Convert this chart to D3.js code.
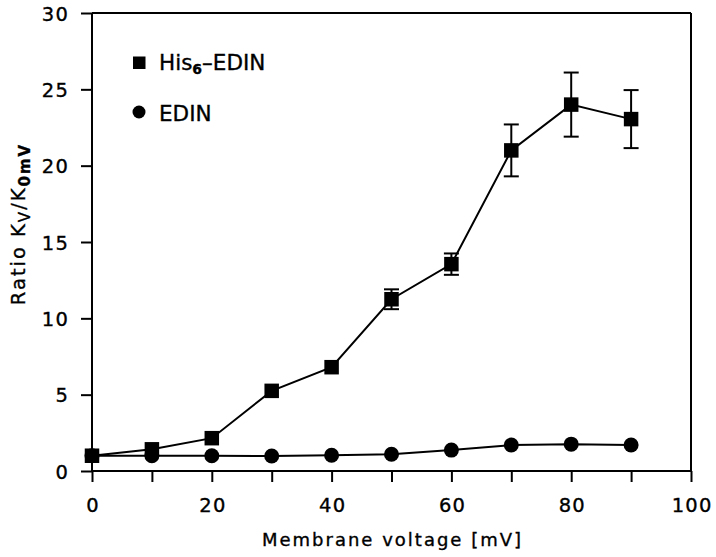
<!DOCTYPE html>
<html><head><meta charset="utf-8">
<script src="https://cdn.jsdelivr.net/npm/d3@7"></script>
<style>body{margin:0;background:#fff}svg{display:block}text{font-family:"DejaVu Sans",sans-serif;fill:#000;stroke:#000;stroke-width:0.35px}</style>
</head><body><svg id="c" width="716" height="557"></svg>
<script>
const voltages = [0,10,20,30,40,50,60,70,80,90];
const hisEdin = [1.0,1.42,2.15,5.25,6.8,11.25,13.55,21.0,24.0,23.05];
const hisEdinErr = [0,0,0,0,0,0.65,0.7,1.7,2.1,1.9];
const edin = [1.0,1.0,1.0,0.98,1.03,1.1,1.37,1.7,1.76,1.7];
const xTicks = [0,20,40,60,80,100];
const yTicks = [0,5,10,15,20,25,30];

const svg = d3.select("#c");
const L=92,R=691,T=13,B=471;
const x = d3.scaleLinear().domain([0,100]).range([L,R]);
const y = d3.scaleLinear().domain([0,30]).range([B,T]);
const FF = "'DejaVu Sans',sans-serif";

// frame
svg.append("line").attr("x1",L).attr("x2",R).attr("y1",T).attr("y2",T).attr("stroke","#000").attr("stroke-width",2);
svg.append("line").attr("x1",R).attr("x2",R).attr("y1",T).attr("y2",B).attr("stroke","#000").attr("stroke-width",2);

const ax = svg.append("g").attr("transform",`translate(0,${B})`)
  .call(d3.axisBottom(x).tickValues(d3.range(0,101,10)).tickSize(11).tickFormat(d=>xTicks.includes(d)?d:""));
ax.select(".domain").attr("stroke-width",2).attr("d",`M${L},0H${R}`);
ax.selectAll(".tick line").attr("stroke-width",2);
ax.selectAll(".tick text").attr("font-size",19.5).attr("letter-spacing",1.2).attr("y",41).attr("dy",0).attr("dx",0.6);

const ay = svg.append("g").attr("transform",`translate(${L},0)`)
  .call(d3.axisLeft(y).tickValues(yTicks).tickSize(11));
ay.select(".domain").attr("stroke-width",2).attr("d",`M0,${T}V${B}`);
ay.selectAll(".tick line").attr("stroke-width",2);
ay.selectAll(".tick text").attr("font-size",19.5).attr("letter-spacing",1.2).attr("x",-23).attr("dy","0.36em");
svg.selectAll(".tick text").style("font-family",FF);

// axis titles
svg.append("text").attr("x",(L+R)/2+1).attr("y",546).attr("text-anchor","middle")
  .attr("font-size",18).attr("letter-spacing",2).text("Membrane voltage [mV]");
const yt = svg.append("text").attr("transform",`translate(25,224) rotate(-90)`).attr("text-anchor","middle").attr("font-size",19.5).attr("letter-spacing",2);
yt.append("tspan").text("Ratio K");
yt.append("tspan").attr("font-size",15).attr("dy",5).text("V");
yt.append("tspan").attr("dy",-5).text("/K");
yt.append("tspan").attr("font-size",15).attr("dy",5).attr("font-weight","bold").text("0mV");

const line = d3.line().x(d=>x(d[0])).y(d=>y(d[1]));
const edinData = voltages.map((v,i)=>[v,edin[i]]);
const hisData = voltages.map((v,i)=>[v,hisEdin[i]]);

svg.append("path").attr("d",line(edinData)).attr("fill","none").attr("stroke","#000").attr("stroke-width",2);
svg.selectAll("circle.e").data(edinData).enter().append("circle").attr("cx",d=>x(d[0])).attr("cy",d=>y(d[1])).attr("r",7.5).attr("fill","#000");

svg.append("path").attr("d",line(hisData)).attr("fill","none").attr("stroke","#000").attr("stroke-width",2);
// error bars
const eb = svg.append("g").attr("stroke","#000").attr("stroke-width",2);
voltages.forEach((v,i)=>{
  const e=hisEdinErr[i]; if(!e) return;
  const cx=x(v), y1=y(hisEdin[i]+e), y2=y(hisEdin[i]-e);
  eb.append("line").attr("x1",cx).attr("x2",cx).attr("y1",y1).attr("y2",y2);
  eb.append("line").attr("x1",cx-7.5).attr("x2",cx+7.5).attr("y1",y1).attr("y2",y1);
  eb.append("line").attr("x1",cx-7.5).attr("x2",cx+7.5).attr("y1",y2).attr("y2",y2);
});
svg.selectAll("rect.h").data(hisData).enter().append("rect").attr("x",d=>x(d[0])-7.25).attr("y",d=>y(d[1])-7.25).attr("width",14.5).attr("height",14.5).attr("fill","#000");

// legend
svg.append("rect").attr("x",133).attr("y",56.5).attr("width",12.5).attr("height",12.5).attr("fill","#000");
const lt = svg.append("text").attr("x",159).attr("y",70).attr("font-size",21.5);
lt.append("tspan").text("His");
lt.append("tspan").attr("font-size",14).attr("font-weight","bold").attr("dy",4).text("6");
lt.append("tspan").attr("dy",-4).text("\u2013EDIN");
svg.append("circle").attr("cx",139).attr("cy",112).attr("r",6.5).attr("fill","#000");
svg.append("text").attr("x",159).attr("y",120.5).attr("font-size",21.5).text("EDIN");
</script></body></html>
